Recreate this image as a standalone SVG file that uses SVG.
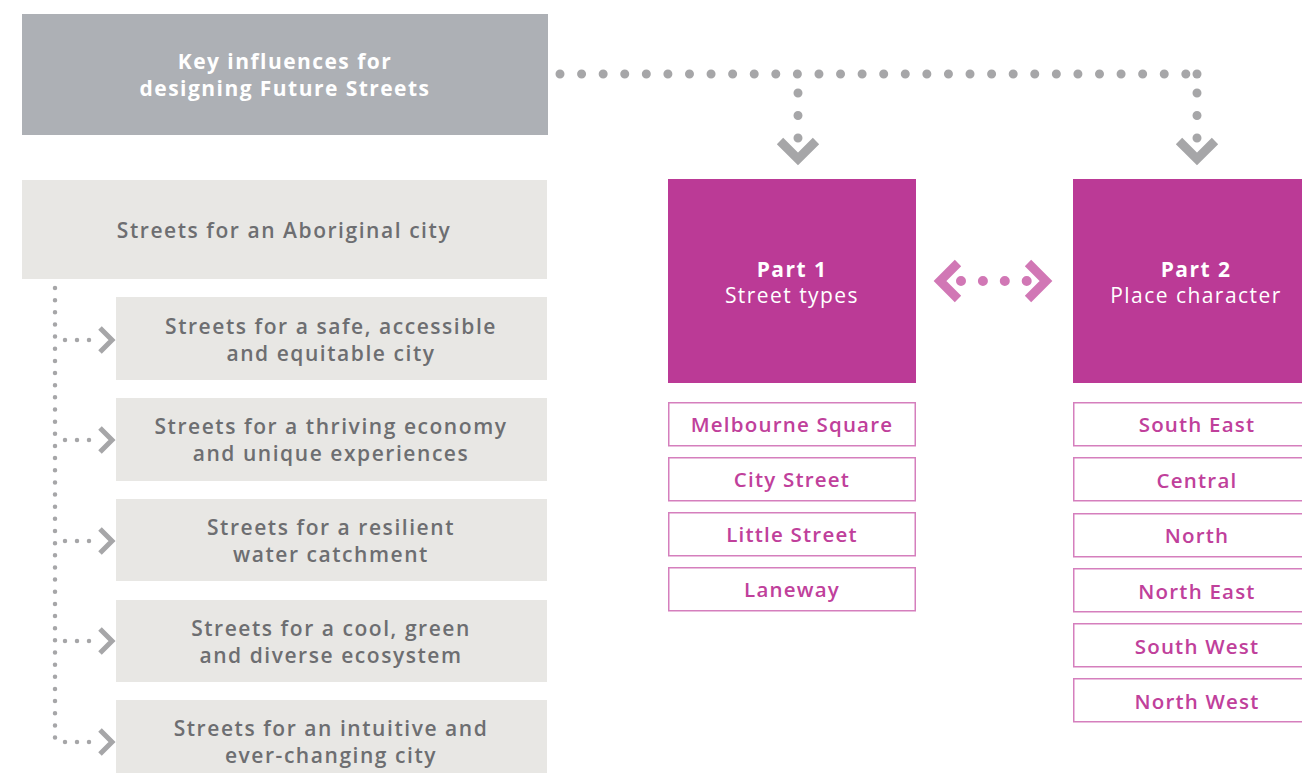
<svg xmlns="http://www.w3.org/2000/svg" width="1302" height="773" viewBox="0 0 1302 773">
<defs>
<style>
.t{font-family:"Open Sans","Noto Sans",sans-serif;text-anchor:middle;}
.g{fill:#6d6e71;font-size:21px;font-weight:600;letter-spacing:1.55px;}
.w{fill:#ffffff;font-size:21px;letter-spacing:1.45px;}
.p{fill:#c0409b;font-size:20.5px;font-weight:600;letter-spacing:1.2px;}
.box{fill:#e8e7e4;}
.lb{fill:#ffffff;stroke:#d57fbd;stroke-width:1.5;}
.mag{fill:#bb3a96;}
.chg{fill:none;stroke:#a6a6a8;stroke-width:9;}
.chs{fill:none;stroke:#a6a6a8;stroke-width:5;}
.chp{fill:none;stroke:#d177b5;stroke-width:9;}
</style>
</defs>
<g id="connectors">
<line x1="560" y1="74" x2="1186" y2="74" stroke="#a6a6a8" stroke-width="9" stroke-linecap="round" stroke-dasharray="0 21.58"/>
<circle cx="1197" cy="74" r="4.5" fill="#a6a6a8"/>
<line x1="798" y1="93" x2="798" y2="140" stroke="#a6a6a8" stroke-width="9" stroke-linecap="round" stroke-dasharray="0 22.5"/>
<line x1="1197" y1="93" x2="1197" y2="140" stroke="#a6a6a8" stroke-width="9" stroke-linecap="round" stroke-dasharray="0 22.5"/>
<polyline class="chg" points="780,141 798,159 816,141"/>
<polyline class="chg" points="1179,141 1197,159 1215,141"/>
<line x1="961" y1="281" x2="1027" y2="281" stroke="#d177b5" stroke-width="10" stroke-linecap="round" stroke-dasharray="0 21.9"/>
<polyline class="chp" points="958,263 940,281 958,299"/>
<polyline class="chp" points="1028,263 1046,281 1028,299"/>
<line x1="55" y1="288" x2="55" y2="742" stroke="#a6a6a8" stroke-width="4.5" stroke-linecap="round" stroke-dasharray="0 12.15"/>
<g stroke="#a6a6a8" stroke-width="4.5" stroke-linecap="round" stroke-dasharray="0 12">
<line x1="65" y1="340" x2="101" y2="340"/>
<line x1="65" y1="440" x2="101" y2="440"/>
<line x1="65" y1="541" x2="101" y2="541"/>
<line x1="65" y1="641" x2="101" y2="641"/>
<line x1="65" y1="742" x2="101" y2="742"/>
</g>
<polyline class="chs" points="100,328 112,340 100,352"/>
<polyline class="chs" points="100,428 112,440 100,452"/>
<polyline class="chs" points="100,529 112,541 100,553"/>
<polyline class="chs" points="100,629 112,641 100,653"/>
<polyline class="chs" points="100,730 112,742 100,754"/>
</g>
<g id="key">
<rect x="22" y="14" width="526" height="121" fill="#adb0b5"/>
<text class="t w" x="285" y="69" font-weight="700">Key influences for</text>
<text class="t w" x="285" y="96" font-weight="700">designing Future Streets</text>
</g>
<g id="aboriginal">
<rect class="box" x="22" y="180" width="525" height="99"/>
<text class="t g" x="284" y="238">Streets for an Aboriginal city</text>
</g>
<g id="safe">
<rect class="box" x="116" y="297" width="431" height="83"/>
<text class="t g" x="331" y="334">Streets for a safe, accessible</text>
<text class="t g" x="331" y="361">and equitable city</text>
</g>
<g id="economy">
<rect class="box" x="116" y="398" width="431" height="83"/>
<text class="t g" x="331" y="434">Streets for a thriving economy</text>
<text class="t g" x="331" y="461">and unique experiences</text>
</g>
<g id="water">
<rect class="box" x="116" y="499" width="431" height="82"/>
<text class="t g" x="331" y="535">Streets for a resilient</text>
<text class="t g" x="331" y="562">water catchment</text>
</g>
<g id="eco">
<rect class="box" x="116" y="600" width="431" height="82"/>
<text class="t g" x="331" y="636">Streets for a cool, green</text>
<text class="t g" x="331" y="663">and diverse ecosystem</text>
</g>
<g id="intuitive">
<rect class="box" x="116" y="700" width="431" height="73"/>
<text class="t g" x="331" y="736">Streets for an intuitive and</text>
<text class="t g" x="331" y="763">ever-changing city</text>
</g>
<g id="part1">
<rect class="mag" x="668" y="179" width="248" height="204"/>
<text class="t w" x="792" y="277" font-weight="700">Part 1</text>
<text class="t w" x="792" y="303">Street types</text>
</g>
<g id="part2">
<rect class="mag" x="1073" y="179" width="240" height="204"/>
<text class="t w" x="1196" y="277" font-weight="700">Part 2</text>
<text class="t w" x="1196" y="303">Place character</text>
</g>
<g id="melbourne-square"><rect class="lb" x="668.75" y="402.75" width="246.5" height="43"/><text class="t p" x="792" y="432">Melbourne Square</text></g>
<g id="city-street"><rect class="lb" x="668.75" y="457.75" width="246.5" height="43"/><text class="t p" x="792" y="487">City Street</text></g>
<g id="little-street"><rect class="lb" x="668.75" y="512.75" width="246.5" height="43"/><text class="t p" x="792" y="542">Little Street</text></g>
<g id="laneway"><rect class="lb" x="668.75" y="567.75" width="246.5" height="43"/><text class="t p" x="792" y="597">Laneway</text></g>
<g id="south-east"><rect class="lb" x="1073.75" y="402.75" width="240" height="43"/><text class="t p" x="1197" y="432">South East</text></g>
<g id="central"><rect class="lb" x="1073.75" y="457.75" width="240" height="43"/><text class="t p" x="1197" y="488">Central</text></g>
<g id="north"><rect class="lb" x="1073.75" y="513.75" width="240" height="43"/><text class="t p" x="1197" y="543">North</text></g>
<g id="north-east"><rect class="lb" x="1073.75" y="568.75" width="240" height="43"/><text class="t p" x="1197" y="599">North East</text></g>
<g id="south-west"><rect class="lb" x="1073.75" y="623.75" width="240" height="43"/><text class="t p" x="1197" y="654">South West</text></g>
<g id="north-west"><rect class="lb" x="1073.75" y="678.75" width="240" height="43"/><text class="t p" x="1197" y="709">North West</text></g>
</svg>
